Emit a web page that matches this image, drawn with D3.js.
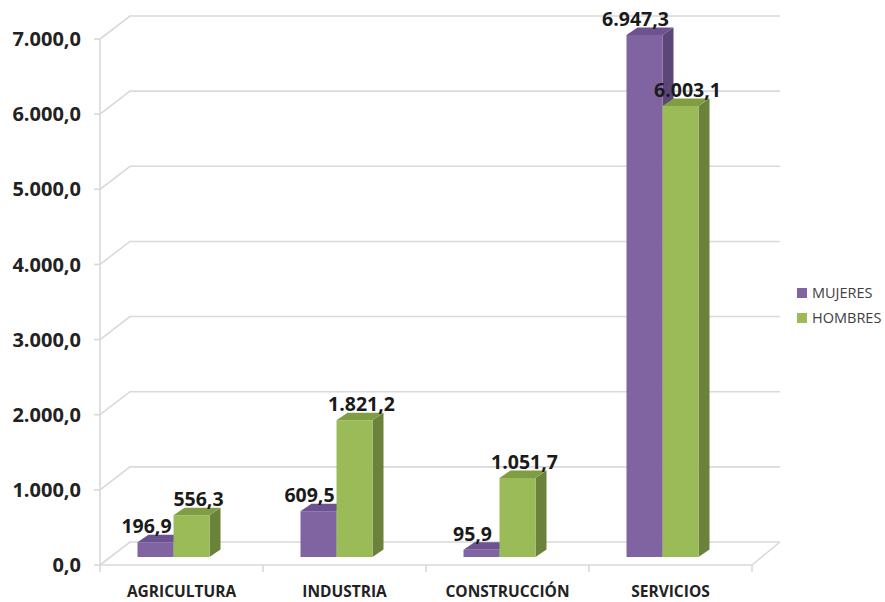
<!DOCTYPE html>
<html><head><meta charset="utf-8">
<script src="https://cdn.jsdelivr.net/npm/d3@7"></script>
<style>body{margin:0;background:#fff}svg{display:block}</style>
</head><body>
<script>
const categories = ["AGRICULTURA","INDUSTRIA","CONSTRUCCIÓN","SERVICIOS"];
const seriesNames = ["MUJERES","HOMBRES"];
const mujeres = [196.9, 609.5, 95.9, 6947.3];
const hombres = [556.3, 1821.2, 1051.7, 6003.1];
const yTicks = [0,1000,2000,3000,4000,5000,6000,7000];

const W=885,H=602;
const svg=d3.select("body").append("svg").attr("width",W).attr("height",H);
const fmt = v => { const s = d3.format(",.1f")(v); return s.replace(/,/g,"#").replace(".",",").replace(/#/g,"."); };

const x = d3.scaleBand(categories,[100,752]);
const y = d3.scaleLinear([0,7000],[565,39]);
const DX=30, DY=-23;          // wall depth
const BDX=11, BDY=-7.5;       // bar depth
const barBase=557, bw=36;
const hb = v => y(0)-y(v);
const grid="#d9d9d9";

const g=svg.append("g");
yTicks.forEach(t=>{
  g.append("path").attr("d",`M100,${y(t)}L${100+DX},${y(t)+DY}L780,${y(t)+DY}`)
   .attr("fill","none").attr("stroke",grid).attr("stroke-width",1.6);
  g.append("line").attr("x1",94).attr("x2",100).attr("y1",y(t)).attr("y2",y(t)).attr("stroke",grid).attr("stroke-width",1.6);
  g.append("text").attr("x",81).attr("y",y(t)).attr("dy","0.36em").attr("text-anchor","end")
   .attr("font-family","Open Sans").attr("font-weight","bold").attr("font-size",20).attr("fill","#222").text(fmt(t));
});
g.append("line").attr("x1",100).attr("x2",100).attr("y1",y(0)).attr("y2",y(7000)).attr("stroke",grid).attr("stroke-width",1.6);
g.append("path").attr("d",`M100,${y(0)}L752,${y(0)}L780,${y(0)+DY}`).attr("fill","none").attr("stroke",grid).attr("stroke-width",1.6);
[...categories.map(c=>x(c)),752].forEach(tx=>{
  g.append("line").attr("x1",tx).attr("x2",tx).attr("y1",y(0)).attr("y2",y(0)+7).attr("stroke",grid).attr("stroke-width",1.6);
});
categories.forEach(c=>{
  g.append("text").attr("x",x(c)+x.bandwidth()/2).attr("y",597).attr("text-anchor","middle")
   .attr("font-family","Open Sans").attr("font-weight","bold").attr("font-size",15.5).attr("fill","#222").text(c);
});

const cols=[{front:"#8064A2",side:"#5c4678",top:"#6c5290"},{front:"#9BBB59",side:"#6a823a",top:"#7f9e44"}];
const data=[mujeres,hombres];
const labOff=[-9,7];
const bars=svg.append("g");
data.forEach((arr,si)=>{
  arr.forEach((v,i)=>{
    const c=categories[i];
    const x0=x(c)+x.bandwidth()/2-8-bw+si*bw;
    const x1=x0+bw, yt=barBase-hb(v), yb=barBase;
    const col=cols[si];
    bars.append("path").attr("d",`M${x1},${yb}L${x1+BDX},${yb+BDY}L${x1+BDX},${yt+BDY}L${x1},${yt}Z`).attr("fill",col.side);
    bars.append("path").attr("d",`M${x0},${yt}L${x0+BDX},${yt+BDY}L${x1+BDX},${yt+BDY}L${x1},${yt}Z`).attr("fill",col.top);
    bars.append("rect").attr("x",x0).attr("y",yt).attr("width",bw).attr("height",yb-yt).attr("fill",col.front);
  });
});
const labs=svg.append("g");
data.forEach((arr,si)=>{
  arr.forEach((v,i)=>{
    const c=categories[i];
    const x0=x(c)+x.bandwidth()/2-8-bw+si*bw;
    const yt=barBase-hb(v);
    labs.append("text").attr("x",x0+bw/2+labOff[si]).attr("y",yt-9).attr("text-anchor","middle")
      .attr("font-family","Open Sans").attr("font-weight","bold").attr("font-size",19.5).attr("fill","#1a1a1a").text(fmt(v));
  });
});
seriesNames.forEach((n,i)=>{
  const ly=293+i*25;
  svg.append("rect").attr("x",797).attr("y",ly-5).attr("width",10).attr("height",10).attr("fill",cols[i].front);
  svg.append("text").attr("x",812).attr("y",ly).attr("dy","0.36em").attr("font-family","Open Sans").attr("font-size",14.5).attr("fill","#404040").text(n);
});
</script>
</body></html>
